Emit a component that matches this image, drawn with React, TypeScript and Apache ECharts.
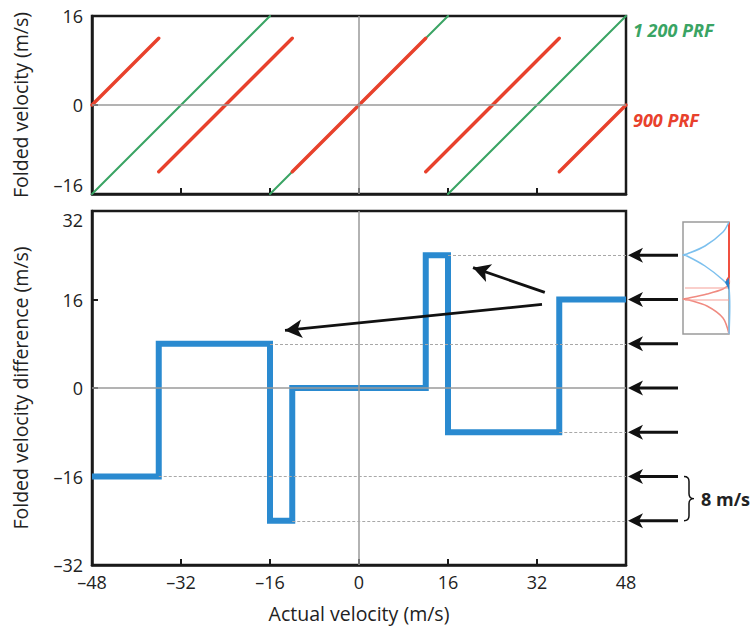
import React, { useEffect, useRef } from "react";
import * as echarts from "echarts";

// ---- data ----
const xMin = -48;
const xMax = 48;
const xStep = 16;
const topYLimit = 16;
const bottomYLimit = 32;
// folded-velocity segments [x1, y1, x2, y2]
const green1200Segments = [
  [-48, -16, -16, 16],
  [-16, -16, 16, 16],
  [16, -16, 48, 16],
];
const red900Segments = [
  [-48, 0, -36, 12],
  [-36, -12, -12, 12],
  [-12, -12, 12, 12],
  [12, -12, 36, 12],
  [36, -12, 48, 0],
];
// velocity difference step function
const stepEdges = [-48, -36, -16, -12, 12, 16, 36, 48];
const stepValues = [-16, 8, -24, 0, 24, -8, 16];
// dotted guide lines [startX, level] running to the right edge
const guideLines = [
  [16, 24],
  [-16, 8],
  [36, -8],
  [-36, -16],
  [-12, -24],
];
const arrowLevels = [24, 16, 8, 0, -8, -16, -24];
// annotation arrows [fromX, fromY, toX, toY]
const annotationArrows = [
  [32.9, 15.1, -13.3, 10.4],
  [33.4, 17.3, 20.5, 21.75],
];
const braceLevels = [-16, -24];
const braceLabel = "8 m/s";
const legendLabels = ["1 200 PRF", "900 PRF"];

const FONT = "Open Sans";
const TICK_FS = 18;
const NAME_FS = 19.5;
const fmt = (v: number) => (v < 0 ? "\u2013" + Math.abs(v) : String(v));

echarts.graphic.registerShape(
  "brace",
  echarts.graphic.extendPath(
    "M0 0 Q5 0 5 5 L5 17.5 Q5 22.5 10 22.5 Q5 22.5 5 27.5 L5 40 Q5 45 0 45",
    {}
  )
);

export default function App() {
  const ref = useRef<HTMLDivElement>(null);
  useEffect(() => {
    if (!ref.current) return;
    const chart = echarts.init(ref.current, null, { renderer: "svg" });

    const stepPts: number[][] = [];
    stepValues.forEach((v, i) => {
      stepPts.push([stepEdges[i], v]);
      stepPts.push([stepEdges[i + 1], v]);
    });

    const segSeries = (segs: number[][], color: string, width: number, z: number) =>
      segs.map((s) => ({
        type: "line",
        xAxisIndex: 0,
        yAxisIndex: 0,
        data: [
          [s[0], s[1]],
          [s[2], s[3]],
        ],
        showSymbol: false,
        symbol: "none",
        lineStyle: { color, width, cap: "round" },
        z,
        silent: true,
      }));

    const axisLine = { show: true, onZero: false, lineStyle: { color: "#1a1a1a", width: 2.5 } };
    const axisTick = { show: true, inside: true, length: 6, lineStyle: { color: "#1a1a1a", width: 2 } };
    const tickLabel = { formatter: fmt, fontFamily: FONT, fontSize: TICK_FS, color: "#222" };
    const nameStyle = { fontFamily: FONT, fontSize: NAME_FS, color: "#222" };

    const xCommon = {
      type: "value",
      min: xMin,
      max: xMax,
      interval: xStep,
      axisLine,
      axisTick,
      splitLine: { show: false },
    };

    const option: any = {
      animation: false,
      grid: [
        { left: 92, right: 130, top: 16, height: 178, show: true, borderColor: "#1a1a1a", borderWidth: 2.5 },
        { left: 92, right: 130, top: 211, height: 354, show: true, borderColor: "#1a1a1a", borderWidth: 2.5 },
      ],
      xAxis: [
        { ...xCommon, gridIndex: 0, axisLabel: { show: false } },
        {
          ...xCommon,
          gridIndex: 1,
          axisLabel: { ...tickLabel, show: true, margin: 8 },
          name: "Actual velocity (m/s)",
          nameLocation: "middle",
          nameGap: 38,
          nameTextStyle: nameStyle,
        },
      ],
      yAxis: [
        {
          type: "value",
          gridIndex: 0,
          min: -topYLimit,
          max: topYLimit,
          interval: 16,
          axisLine,
          axisTick,
          splitLine: { show: false },
          axisLabel: { ...tickLabel, margin: 9, verticalAlignMinLabel: "bottom" },
          name: "Folded velocity (m/s)",
          nameLocation: "middle",
          nameGap: 62,
          nameTextStyle: nameStyle,
        },
        {
          type: "value",
          gridIndex: 1,
          min: -bottomYLimit,
          max: bottomYLimit,
          interval: 16,
          axisLine,
          axisTick,
          splitLine: { show: false },
          axisLabel: { ...tickLabel, margin: 9, verticalAlignMaxLabel: "top" },
          name: "Folded velocity difference (m/s)",
          nameLocation: "middle",
          nameGap: 62,
          nameTextStyle: nameStyle,
        },
      ],
      series: [
        {
          type: "line",
          xAxisIndex: 0,
          yAxisIndex: 0,
          data: [],
          z: 1,
          markLine: {
            silent: true,
            symbol: "none",
            label: { show: false },
            lineStyle: { color: "#9a9a9a", width: 1.5, type: "solid" },
            data: [{ xAxis: 0 }, { yAxis: 0 }],
          },
        },
        ...segSeries(green1200Segments, "#3aa464", 2, 3),
        ...segSeries(red900Segments, "#e8412c", 3.4, 4),
        {
          type: "line",
          xAxisIndex: 1,
          yAxisIndex: 1,
          data: [],
          z: 1,
          markLine: {
            silent: true,
            symbol: "none",
            label: { show: false },
            lineStyle: { color: "#9a9a9a", width: 1.5, type: "solid" },
            data: [
              { xAxis: 0 },
              { yAxis: 0 },
              ...guideLines.map((g) => [
                { coord: [g[0], g[1]], lineStyle: { color: "#a8a8a8", width: 1, type: [3, 2] } },
                { coord: [xMax, g[1]] },
              ]),
            ],
          },
        },
        {
          type: "line",
          xAxisIndex: 1,
          yAxisIndex: 1,
          data: stepPts,
          showSymbol: false,
          symbol: "none",
          lineStyle: { color: "#2a8ad0", width: 6, join: "miter", cap: "butt" },
          z: 3,
          silent: true,
        },
        {
          type: "line",
          xAxisIndex: 1,
          yAxisIndex: 1,
          data: [],
          z: 5,
          markLine: {
            silent: true,
            symbol: ["none", "arrow"],
            symbolSize: [14, 17],
            label: { show: false },
            lineStyle: { color: "#111", width: 2.8, type: "solid" },
            data: annotationArrows.map((a) => [{ coord: [a[0], a[1]] }, { coord: [a[2], a[3]] }]),
          },
        },
      ],
    };
    chart.setOption(option);

    const g: any[] = [];
    arrowLevels.forEach((lv) => {
      const [px, py] = chart.convertToPixel({ gridIndex: 1 }, [xMax, lv]) as number[];
      g.push({
        type: "line",
        shape: { x1: px + 52, y1: py, x2: px + 12, y2: py },
        style: { stroke: "#111", lineWidth: 3.2 },
      });
      g.push({
        type: "polygon",
        shape: { points: [[px + 2, py], [px + 17, py - 7.5], [px + 13, py], [px + 17, py + 7.5]] },
        style: { fill: "#111" },
      });
    });
    const [bx, by1] = chart.convertToPixel({ gridIndex: 1 }, [xMax, braceLevels[0]]) as number[];
    const [, by2] = chart.convertToPixel({ gridIndex: 1 }, [xMax, braceLevels[1]]) as number[];
    g.push({
      type: "brace",
      x: bx + 58,
      y: by1,
      scaleX: 1,
      scaleY: (by2 - by1) / 45,
      style: { fill: "none", stroke: "#111", lineWidth: 1.5 },
    });
    g.push({
      type: "text",
      x: bx + 75,
      y: (by1 + by2) / 2,
      style: {
        text: braceLabel,
        fontFamily: FONT,
        fontSize: 18,
        fontWeight: "bold",
        fill: "#222",
        verticalAlign: "middle",
        align: "left",
      },
    });
    // legend labels
    g.push({
      type: "text",
      x: 633,
      y: 30,
      style: {
        text: legendLabels[0],
        fontFamily: FONT,
        fontSize: 18,
        fontWeight: "bold",
        fontStyle: "italic",
        fill: "#3aa464",
        verticalAlign: "middle",
      },
    });
    g.push({
      type: "text",
      x: 633,
      y: 120,
      style: {
        text: legendLabels[1],
        fontFamily: FONT,
        fontSize: 18,
        fontWeight: "bold",
        fontStyle: "italic",
        fill: "#e8412c",
        verticalAlign: "middle",
      },
    });
    // inset illustration
    g.push({
      type: "group",
      x: 683,
      y: 222,
      children: [
        { type: "rect", shape: { x: 0, y: 0, width: 46, height: 112 }, style: { fill: "#fff", stroke: "#9a9a9a", lineWidth: 1.5 } },
        {
          type: "polyline",
          shape: {
            points: [[46, 56], [46, 62], [40, 67], [24, 72], [6, 76], [0, 77], [6, 78], [24, 84], [40, 96], [46, 112]],
            smooth: 0.3,
          },
          style: { stroke: "#f08a80", lineWidth: 1.5, fill: "none" },
        },
        {
          type: "polyline",
          shape: { points: [[46, 0], [46, 55], [44, 58], [46, 62]] },
          style: { stroke: "#f05040", lineWidth: 2, fill: "none" },
        },
        { type: "line", shape: { x1: 2, y1: 66, x2: 46, y2: 66 }, style: { stroke: "#f5a098", lineWidth: 1.2 } },
        { type: "line", shape: { x1: 2, y1: 78, x2: 46, y2: 78 }, style: { stroke: "#f5a098", lineWidth: 1.2 } },
        {
          type: "polyline",
          shape: {
            points: [[46, 0], [40, 10], [22, 24], [4, 32], [0, 33], [4, 34], [22, 44], [40, 58], [46, 66], [46, 112]],
            smooth: 0.3,
          },
          style: { stroke: "#7cc0ee", lineWidth: 1.5, fill: "none" },
        },
        {
          type: "polygon",
          shape: { points: [[46, 56], [42, 60], [46, 68]] },
          style: { fill: "#2b7fc8" },
        },
      ],
    });
    chart.setOption({ graphic: g });

    return () => chart.dispose();
  }, []);
  return (
    <div
      ref={ref}
      style={{ position: "fixed", left: 0, top: 0, width: 756, height: 628, background: "#fff" }}
    />
  );
}
